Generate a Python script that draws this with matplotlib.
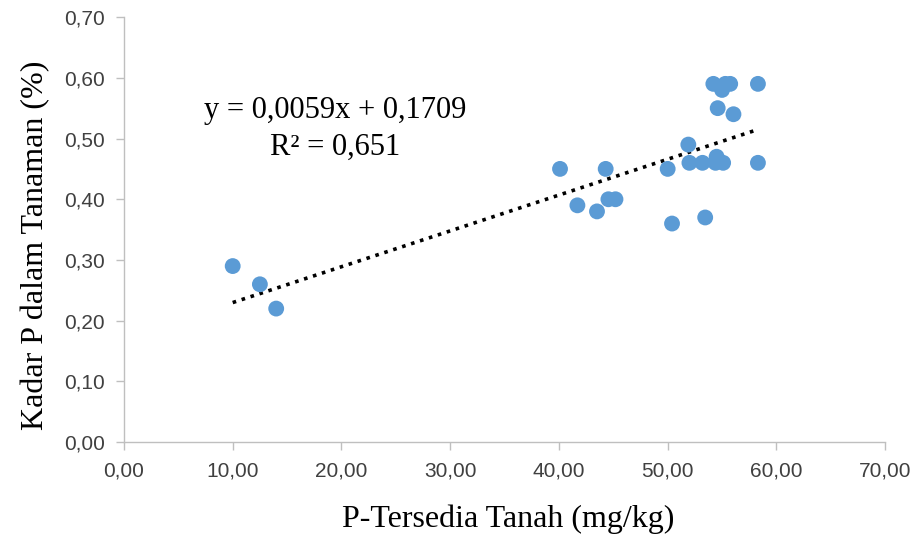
import matplotlib
matplotlib.use("Agg")
import matplotlib.pyplot as plt
import numpy as np

# P tersedia tanah (mg/kg) vs kadar P tanaman (%)
p_tanah = [10.0, 12.5, 14.0, 40.1, 41.7, 43.5, 44.3, 44.55, 45.2, 50.0,
           50.4, 51.9, 52.0, 53.2, 53.45, 54.2, 54.6, 56.05, 54.5, 54.4,
           55.1, 55.0, 55.3, 55.75, 58.3, 58.3]
p_tanaman = [0.29, 0.26, 0.22, 0.45, 0.39, 0.38, 0.45, 0.40, 0.40, 0.45,
             0.36, 0.49, 0.46, 0.46, 0.37, 0.59, 0.55, 0.54, 0.47, 0.46,
             0.46, 0.58, 0.59, 0.59, 0.59, 0.46]

slope = 0.0059
intercept = 0.1709
r2 = 0.651

x_ticks = np.arange(0, 71, 10)
y_ticks = np.arange(0, 0.71, 0.1)

tick_font = ["Liberation Sans", "DejaVu Sans"]
serif_font = ["Liberation Serif", "DejaVu Serif"]

fig = plt.figure(figsize=(9.23, 5.5), dpi=100)
ax = fig.add_axes([0.1343, 0.196, 0.8247, 0.773])

ax.scatter(p_tanah, p_tanaman, s=130, color="#5B9BD5", edgecolors="none", zorder=3)

xs = np.array([min(p_tanah), max(p_tanah)])
ax.plot(xs, slope * xs + intercept, color="black", linestyle=(0, (1, 1.6)),
        linewidth=2.6, zorder=2)

# equation of the trend line
ax.text(19.4, 0.546, "y = 0,0059x + 0,1709", fontsize=22, family=serif_font,
        ha="center", va="center")
ax.text(19.4, 0.485, f"R² = {r2:.3f}".replace(".", ","), fontsize=22,
        family=serif_font, ha="center", va="center")

ax.set_xlim(0, 70)
ax.set_ylim(0, 0.70)
ax.set_xticks(x_ticks)
ax.set_yticks(y_ticks)
ax.set_xticklabels([f"{v:.2f}".replace(".", ",") for v in x_ticks],
                   family=tick_font, fontsize=15, color="#404040")
ax.set_yticklabels([f"{v:.2f}".replace(".", ",") for v in y_ticks],
                   family=tick_font, fontsize=15, color="#404040")

for side in ["top", "right"]:
    ax.spines[side].set_visible(False)
for side in ["left", "bottom"]:
    ax.spines[side].set_color("#BFBFBF")
    ax.spines[side].set_linewidth(1.0)
ax.tick_params(axis="both", direction="out", length=6, width=1.0,
               color="#BFBFBF", pad=8)

ax.set_xlabel("P-Tersedia Tanah (mg/kg)", family=serif_font, fontsize=23,
              labelpad=17, x=0.505)
ax.set_ylabel("Kadar P dalam Tanaman (%)", family=serif_font, fontsize=23,
              labelpad=10, y=0.464)

fig.savefig("out.png", dpi=100)
